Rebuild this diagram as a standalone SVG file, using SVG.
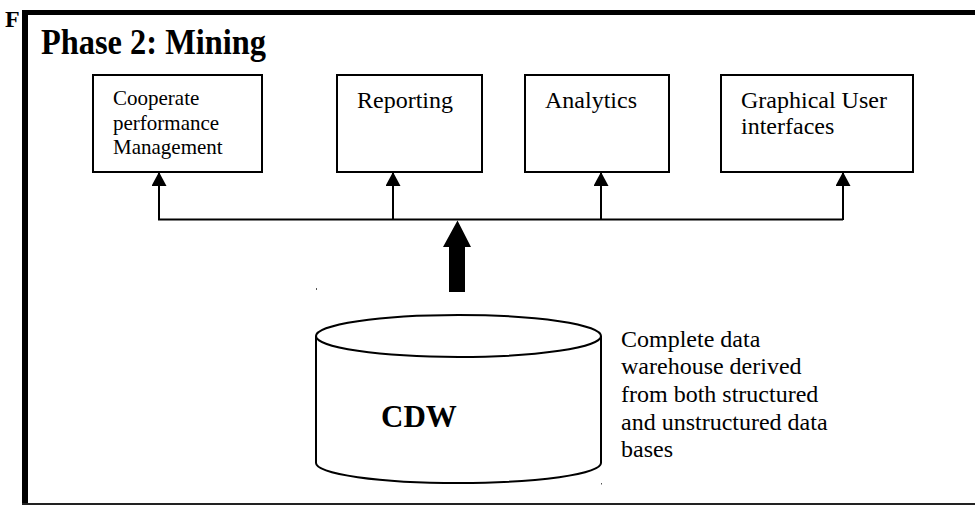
<svg xmlns="http://www.w3.org/2000/svg" width="975" height="506" viewBox="0 0 975 506">
  <style>
    .box { fill: #fff; stroke: #000; stroke-width: 2; }
    .wire { fill: none; stroke: #000; stroke-width: 2; }
    .cyl { fill: #fff; stroke: #000; stroke-width: 2; }
  </style>
  <defs>
    <marker id="head" viewBox="0 0 14 15" refX="14" refY="7.5" markerWidth="14" markerHeight="15" markerUnits="userSpaceOnUse" orient="auto">
      <path d="M0,0 L14,7.5 L0,15 Z" fill="#000"/>
    </marker>
  </defs>

  <rect width="975" height="506" fill="#fff"/>

  <g font-family="Liberation Serif" fill="#000">
    <!-- page letter partly hidden behind the frame -->
    <text x="5" y="27" font-size="24" font-weight="bold">F</text>

    <!-- outer frame -->
    <g id="frame">
      <rect x="22" y="10" width="953" height="5" fill="#000"/>
      <rect x="22" y="10" width="6" height="495" fill="#000"/>
      <rect x="22" y="503" width="953" height="2" fill="#222"/>
    </g>

    <text id="title" x="41" y="54" font-size="35" font-weight="bold" textLength="225" lengthAdjust="spacingAndGlyphs">Phase 2: Mining</text>

    <!-- top row of consumers -->
    <g id="cpm">
      <rect class="box" x="93" y="75" width="169" height="97"/>
      <text font-size="21">
        <tspan x="113" y="105">Cooperate</tspan>
        <tspan x="113" y="130">performance</tspan>
        <tspan x="113" y="154">Management</tspan>
      </text>
    </g>
    <g id="reporting">
      <rect class="box" x="337" y="75" width="145" height="97"/>
      <text x="357" y="108" font-size="24">Reporting</text>
    </g>
    <g id="analytics">
      <rect class="box" x="525" y="75" width="144" height="97"/>
      <text x="545" y="108" font-size="24">Analytics</text>
    </g>
    <g id="gui">
      <rect class="box" x="721" y="75" width="192" height="97"/>
      <text font-size="24">
        <tspan x="741" y="108">Graphical User</tspan>
        <tspan x="741" y="134">interfaces</tspan>
      </text>
    </g>

    <!-- distribution bus and arrows -->
    <g id="connectors">
      <line class="wire" x1="158" y1="219.5" x2="843" y2="219.5"/>
      <line class="wire" x1="159" y1="220" x2="159" y2="172" marker-end="url(#head)"/>
      <line class="wire" x1="393" y1="220" x2="393" y2="172" marker-end="url(#head)"/>
      <line class="wire" x1="601" y1="220" x2="601" y2="172" marker-end="url(#head)"/>
      <line class="wire" x1="843" y1="220" x2="843" y2="172" marker-end="url(#head)"/>
      <!-- block arrow from the warehouse up to the bus -->
      <path d="M457.5,220.5 L471,247 L465,247 L465,292 L449,292 L449,247 L443,247 Z" fill="#000"/>
    </g>

    <!-- warehouse cylinder -->
    <g id="cdw">
      <path class="cyl" d="M316,336 L316,463 A142.5,20 0 0 0 601,463 L601,336"/>
      <ellipse class="cyl" cx="458.5" cy="336" rx="142.5" ry="21"/>
      <text x="381" y="427" font-size="31" font-weight="bold">CDW</text>
      <rect x="316" y="288" width="1" height="2" fill="#555"/>
      <rect x="601" y="483" width="1" height="1.5" fill="#555"/>
    </g>

    <g id="cdw-note">
      <text font-size="24">
        <tspan x="621" y="347">Complete data</tspan>
        <tspan x="621" y="374">warehouse derived</tspan>
        <tspan x="621" y="402">from both structured</tspan>
        <tspan x="621" y="430">and unstructured data</tspan>
        <tspan x="621" y="457">bases</tspan>
      </text>
    </g>
  </g>
</svg>
